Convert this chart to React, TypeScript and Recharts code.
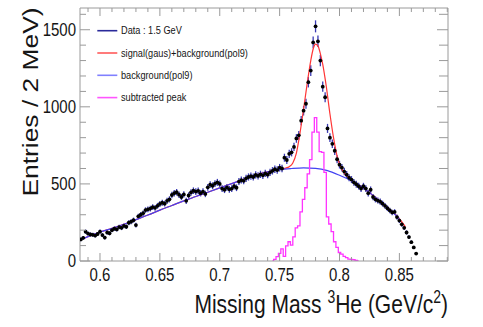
import React from "react";
import {
  ComposedChart,
  Scatter,
  Line,
  XAxis,
  YAxis,
  ErrorBar,
  Legend,
} from "recharts";

const FONT = "'Liberation Sans', Arial, Helvetica, sans-serif";
const FRAME = "#9a9a9a";
const INK = "#151515";
// the ROOT canvas was resized, so every label is drawn taller than it is wide
const STRETCH = 1.2;

// data histogram, 2 MeV bins
const BIN_START = 0.584;
const BIN_WIDTH = 0.002;
const dataCounts = [
  140, 150, 190, 178, 172, 170, 165, 175, 190, 168,
  152, 185, 180, 200, 210, 205, 220, 215, 228, 222,
  248, 255, 265, 233, 290, 300, 310, 330, 335, 340,
  350, 345, 358, 370, 378, 372, 390, 400, 428, 440,
  446, 430, 415, 432, 390, 425, 445, 456, 450, 455,
  440, 450, 435, 478, 495, 488, 502, 510, 500, 470,
  462, 478, 465, 470, 485, 475, 515, 525, 520, 536,
  545, 550, 545, 558, 552, 562, 556, 568, 560, 575,
  585, 595, 590, 605, 600, 670, 655, 695, 705, 740,
  795, 815, 910, 975, 1020, 1160, 1235, 1418, 1522, 1425,
  1300, 1131, 1062, 860, 800, 760, 715, 660, 625, 605,
  580, 560, 540, 528, 510, 498, 485, 470, 485, 470,
  440, 462, 415, 400, 392, 385, 372, 358, 342, 328,
  315, 318, 285, 262, 238, 215, 185, 155, 122, 88, 48,
];

// background(pol9)
const bgMass = [
  0.584, 0.59, 0.6, 0.61, 0.62, 0.63, 0.64, 0.65, 0.66, 0.67, 0.68, 0.69, 0.7, 0.71,
  0.72, 0.73, 0.74, 0.75, 0.76, 0.77, 0.78, 0.79, 0.8, 0.81, 0.82, 0.83, 0.84, 0.85,
];
const bgCounts = [
  138, 158, 188, 212, 238, 268, 298, 330, 360, 390, 418, 446, 474, 502,
  530, 558, 579, 593, 600, 604, 601, 586, 556, 520, 474, 412, 348, 274,
];

// signal(gaus)+background(pol9)
const fitMass = [
  0.584, 0.59, 0.6, 0.61, 0.62, 0.63, 0.64, 0.65, 0.66, 0.67, 0.68, 0.69, 0.7, 0.71,
  0.72, 0.73, 0.74, 0.75, 0.755, 0.758, 0.761, 0.764, 0.767, 0.77, 0.773, 0.776,
  0.778, 0.78, 0.782, 0.784, 0.786, 0.789, 0.792, 0.795, 0.798, 0.801, 0.804,
  0.807, 0.81, 0.82, 0.83, 0.84, 0.85, 0.855,
];
const fitCounts = [
  138, 158, 188, 212, 238, 268, 298, 330, 360, 390, 418, 446, 474, 502,
  530, 558, 579, 594, 602, 612, 636, 700, 830, 985, 1150, 1300,
  1375, 1407, 1395, 1345, 1275, 1130, 955, 800, 680, 610, 570,
  546, 522, 474, 412, 348, 274, 222,
];

// subtracted peak histogram, same binning
const PEAK_START = 0.744;
const peakCounts = [
  0, 10, 28, 50, 78, 30, 98, 125, 103, 157, 215, 228, 318, 400, 475, 565, 658,
  836, 930, 836, 710, 705, 575, 286, 240, 190, 125, 88, 55, 45, 30, 22, 12, 10,
  8, 4, 0,
];

const xTicks = [
  0.59, 0.6, 0.61, 0.62, 0.63, 0.64, 0.65, 0.66, 0.67, 0.68, 0.69, 0.7, 0.71, 0.72,
  0.73, 0.74, 0.75, 0.76, 0.77, 0.78, 0.79, 0.8, 0.81, 0.82, 0.83, 0.84, 0.85, 0.86,
  0.87, 0.88, 0.89,
];
const xLabelled = [0.6, 0.65, 0.7, 0.75, 0.8, 0.85];
const yTicks = [
  0, 100, 200, 300, 400, 500, 600, 700, 800, 900, 1000, 1100, 1200, 1300, 1400,
  1500, 1600,
];
const yLabelled = [0, 500, 1000, 1500];

const X_DOMAIN: [number, number] = [0.5833, 0.8906];
const Y_DOMAIN: [number, number] = [0, 1641];

const legendNames = [
  "Data : 1.5 GeV",
  "signal(gaus)+background(pol9)",
  "background(pol9)",
  "subtracted peak",
];
const legendColors = ["#2a2a9a", "#ff5a5a", "#8080ff", "#ff55ff"];

const DATA_ERR = "#3a3ab4";
const FIT_RED = "#ff3535";
const BG_BLUE = "#4343f2";
const PEAK_PINK = "#ff33ff";

const dataTable = dataCounts.map((n, i) => ({
  m: +(BIN_START + i * BIN_WIDTH).toFixed(3),
  n,
  err: Math.sqrt(n),
}));
const bgTable = bgMass.map((m, i) => ({ m, n: bgCounts[i] }));
const fitTable = fitMass.map((m, i) => ({ m, n: fitCounts[i] }));
const peakTable = peakCounts.map((n, i) => ({
  m: +(PEAK_START + i * BIN_WIDTH).toFixed(3),
  n,
}));

const isMajor = (v: number, list: number[]) =>
  list.some((t) => Math.abs(t - v) < 1e-6);

// eslint-disable-next-line @typescript-eslint/no-explicit-any
function BottomTick({ x, y, payload }: any) {
  const major = isMajor(payload.value, xLabelled);
  return (
    <g>
      <line x1={x} x2={x} y1={y} y2={y - (major ? 8 : 4)} stroke={FRAME} />
      {major && (
        <text
          transform={`translate(${x},${y + 14}) scale(1,${STRETCH})`}
          textAnchor="middle"
          dy="0.36em"
          fontSize={15}
          fontFamily={FONT}
          fill={INK}
        >
          {String(payload.value)}
        </text>
      )}
    </g>
  );
}

// eslint-disable-next-line @typescript-eslint/no-explicit-any
function TopTick({ x, y, payload }: any) {
  const major = isMajor(payload.value, xLabelled);
  return <line x1={x} x2={x} y1={y} y2={y + (major ? 8 : 4)} stroke={FRAME} />;
}

// eslint-disable-next-line @typescript-eslint/no-explicit-any
function LeftTick({ x, y, payload }: any) {
  const major = isMajor(payload.value, yLabelled);
  return (
    <g>
      <line x1={x} x2={x + (major ? 10 : 6)} y1={y} y2={y} stroke={FRAME} />
      {major && (
        <text
          transform={`translate(${x - 4},${y}) scale(1,${STRETCH})`}
          textAnchor="end"
          dy="0.36em"
          fontSize={15}
          fontFamily={FONT}
          fill={INK}
        >
          {String(payload.value)}
        </text>
      )}
    </g>
  );
}

// eslint-disable-next-line @typescript-eslint/no-explicit-any
function RightTick({ x, y, payload }: any) {
  const major = isMajor(payload.value, yLabelled);
  return <line x1={x} x2={x - (major ? 11 : 9)} y1={y} y2={y} stroke={FRAME} />;
}

// eslint-disable-next-line @typescript-eslint/no-explicit-any
function MassTitle({ viewBox }: any) {
  const vb = viewBox ?? { x: 80, y: 261, width: 368 };
  return (
    <text
      transform={`translate(${vb.x + vb.width},${vb.y + 52}) scale(1,1.25)`}
      textAnchor="end"
      fontSize={21}
      fontFamily={FONT}
      fill={INK}
    >
      Missing Mass <tspan fontSize={14} dy={-8}>3</tspan>
      <tspan dy={8}>He (GeV/c</tspan>
      <tspan fontSize={14} dy={-8}>2</tspan>
      <tspan dy={8}>)</tspan>
    </text>
  );
}

// eslint-disable-next-line @typescript-eslint/no-explicit-any
function EntriesTitle({ viewBox }: any) {
  const vb = viewBox ?? { x: 79, y: 8, width: 1 };
  return (
    <text
      transform={`translate(${vb.x + vb.width - 42},${vb.y + 94}) scale(1,${STRETCH}) rotate(-90)`}
      textAnchor="middle"
      fontSize={22}
      fontFamily={FONT}
      fill={INK}
    >
      Entries / 2 MeV)
    </text>
  );
}

function RootLegend() {
  return (
    <svg width={190} height={92} style={{ display: "block", overflow: "visible" }}>
      {legendNames.map((name, i) => {
        const y = 10.7 + i * 22.3;
        return (
          <g key={name}>
            <line x1={7.3} x2={27.3} y1={y} y2={y} stroke={legendColors[i]} strokeWidth={1.6} />
            <text
              transform={`translate(31,${y}) scale(1,1.17)`}
              dy="0.35em"
              fontSize={9.2}
              fontFamily={FONT}
              fill={INK}
            >
              {name}
            </text>
          </g>
        );
      })}
    </svg>
  );
}

// eslint-disable-next-line @typescript-eslint/no-explicit-any
function DataDot({ cx, cy }: any) {
  return <circle cx={cx} cy={cy} r={1.9} fill="#000" />;
}

export default function App() {
  return (
    <div
      style={{
        position: "absolute",
        left: 0,
        top: 0,
        width: 483,
        height: 327,
        background: "#fff",
      }}
    >
      <ComposedChart
        width={483}
        height={327}
        margin={{ top: 7, right: 34, bottom: 65, left: 79 }}
      >
        <XAxis
          dataKey="m"
          type="number"
          domain={X_DOMAIN}
          allowDataOverflow
          ticks={xTicks}
          interval={0}
          height={1}
          tickSize={0}
          tickMargin={0}
          tickLine={false}
          axisLine={{ stroke: FRAME }}
          tick={<BottomTick />}
          label={<MassTitle />}
        />
        <XAxis
          xAxisId="top"
          orientation="top"
          dataKey="m"
          type="number"
          domain={X_DOMAIN}
          allowDataOverflow
          ticks={xTicks}
          interval={0}
          height={1}
          tickSize={0}
          tickMargin={0}
          tickLine={false}
          axisLine={{ stroke: FRAME }}
          tick={<TopTick />}
        />
        <YAxis
          dataKey="n"
          type="number"
          domain={Y_DOMAIN}
          allowDataOverflow
          ticks={yTicks}
          interval={0}
          width={1}
          tickSize={0}
          tickMargin={0}
          tickLine={false}
          axisLine={{ stroke: FRAME }}
          tick={<LeftTick />}
          label={<EntriesTitle />}
        />
        <YAxis
          yAxisId="right"
          orientation="right"
          dataKey="n"
          type="number"
          domain={Y_DOMAIN}
          allowDataOverflow
          ticks={yTicks}
          interval={0}
          width={1}
          tickSize={0}
          tickMargin={0}
          tickLine={false}
          axisLine={{ stroke: FRAME }}
          tick={<RightTick />}
        />
        <Legend
          layout="vertical"
          align="center"
          verticalAlign="middle"
          content={<RootLegend />}
          wrapperStyle={{ left: 90, top: 20, width: 190, height: 92 }}
        />

        <Scatter
          name={legendNames[0]}
          data={dataTable}
          fill="#000"
          shape={DataDot}
          isAnimationActive={false}
        >
          <ErrorBar dataKey="err" direction="y" width={0} stroke={DATA_ERR} strokeWidth={1.3} />
        </Scatter>
        <Line
          name={legendNames[1]}
          data={fitTable}
          dataKey="n"
          type="monotone"
          stroke={FIT_RED}
          strokeWidth={1.2}
          dot={false}
          activeDot={false}
          isAnimationActive={false}
        />
        <Line
          name={legendNames[2]}
          data={bgTable}
          dataKey="n"
          type="monotone"
          stroke={BG_BLUE}
          strokeWidth={1.2}
          dot={false}
          activeDot={false}
          isAnimationActive={false}
        />
        <Line
          name={legendNames[3]}
          data={peakTable}
          dataKey="n"
          type="step"
          stroke={PEAK_PINK}
          strokeWidth={1.3}
          dot={false}
          activeDot={false}
          isAnimationActive={false}
        />
      </ComposedChart>
    </div>
  );
}
